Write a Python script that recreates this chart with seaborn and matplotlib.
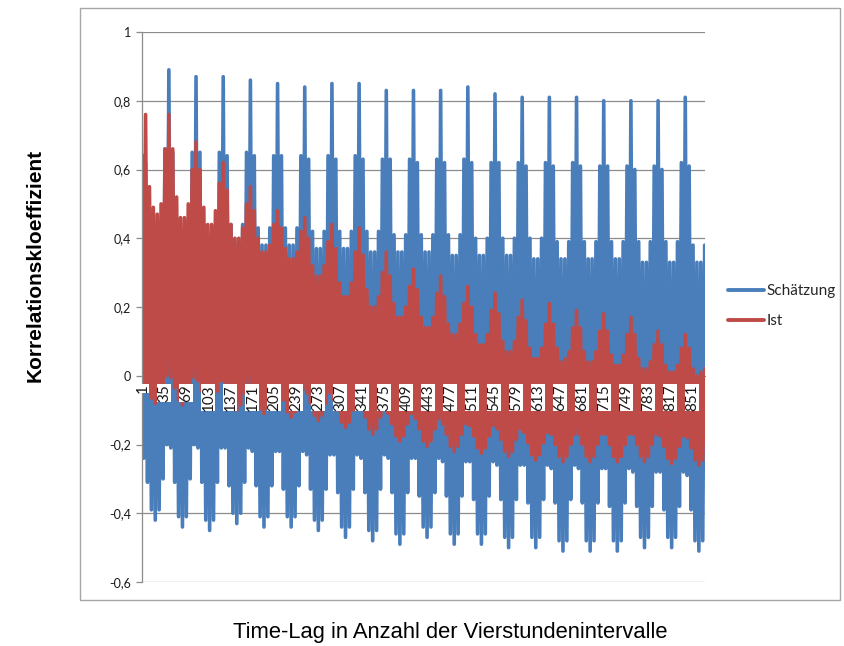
import numpy as np
import pandas as pd
import matplotlib
matplotlib.use("Agg")
import matplotlib.pyplot as plt
import seaborn as sns
from matplotlib.patches import Rectangle

# ---------------- data ----------------
series_names = ["Schätzung", "Ist"]
n_lags = 870
lag1_values = [0.20, 0.64]          # value at lag 1 (Schätzung, Ist)

# daily maxima (lags 6, 12, ..., 870)
blue_day_peaks = [
    0.62, 0.44, 0.40,
    0.40, 0.45, 0.66, 0.89, 0.65, 0.45, 0.40,
    0.40, 0.45, 0.65, 0.87, 0.65, 0.44, 0.40,
    0.39, 0.44, 0.65, 0.87, 0.64, 0.44, 0.39,
    0.39, 0.44, 0.65, 0.86, 0.64, 0.43, 0.38,
    0.38, 0.43, 0.64, 0.85, 0.64, 0.43, 0.38,
    0.38, 0.43, 0.64, 0.84, 0.63, 0.42, 0.37,
    0.37, 0.42, 0.64, 0.85, 0.63, 0.42, 0.37,
    0.37, 0.42, 0.64, 0.85, 0.63, 0.42, 0.36,
    0.36, 0.42, 0.63, 0.83, 0.63, 0.41, 0.36,
    0.36, 0.41, 0.63, 0.83, 0.62, 0.41, 0.36,
    0.36, 0.41, 0.63, 0.83, 0.62, 0.41, 0.35,
    0.35, 0.41, 0.63, 0.84, 0.62, 0.40, 0.35,
    0.35, 0.40, 0.62, 0.82, 0.62, 0.40, 0.35,
    0.35, 0.40, 0.62, 0.81, 0.61, 0.40, 0.34,
    0.34, 0.40, 0.62, 0.81, 0.61, 0.39, 0.34,
    0.34, 0.39, 0.62, 0.81, 0.61, 0.39, 0.34,
    0.34, 0.39, 0.61, 0.80, 0.61, 0.39, 0.34,
    0.34, 0.39, 0.61, 0.80, 0.60, 0.39, 0.33,
    0.33, 0.39, 0.61, 0.80, 0.60, 0.39, 0.33,
    0.33, 0.39, 0.62, 0.81, 0.61, 0.38, 0.33,
    0.33, 0.38,
]
# half-day minima (lags 3, 9, ..., 867)
blue_day_troughs = [
    -0.24, -0.31, -0.39, -0.42,
    -0.39, -0.30, -0.20, -0.21, -0.31, -0.41, -0.44,
    -0.41, -0.30, -0.20, -0.21, -0.31, -0.42, -0.45,
    -0.42, -0.31, -0.21, -0.21, -0.32, -0.40, -0.43,
    -0.40, -0.31, -0.21, -0.22, -0.32, -0.41, -0.44,
    -0.41, -0.32, -0.22, -0.22, -0.33, -0.41, -0.44,
    -0.41, -0.32, -0.22, -0.23, -0.33, -0.42, -0.45,
    -0.42, -0.33, -0.23, -0.23, -0.34, -0.44, -0.47,
    -0.44, -0.33, -0.23, -0.24, -0.34, -0.45, -0.48,
    -0.45, -0.33, -0.23, -0.24, -0.34, -0.46, -0.49,
    -0.46, -0.34, -0.24, -0.24, -0.35, -0.44, -0.47,
    -0.44, -0.34, -0.24, -0.25, -0.35, -0.46, -0.49,
    -0.46, -0.35, -0.25, -0.25, -0.36, -0.46, -0.49,
    -0.46, -0.35, -0.25, -0.26, -0.36, -0.47, -0.50,
    -0.47, -0.36, -0.26, -0.26, -0.37, -0.47, -0.50,
    -0.47, -0.36, -0.26, -0.27, -0.37, -0.48, -0.51,
    -0.48, -0.36, -0.26, -0.27, -0.37, -0.48, -0.51,
    -0.48, -0.37, -0.27, -0.27, -0.38, -0.48, -0.51,
    -0.48, -0.37, -0.27, -0.28, -0.38, -0.47, -0.50,
    -0.47, -0.38, -0.28, -0.28, -0.39, -0.47, -0.50,
    -0.47, -0.38, -0.28, -0.29, -0.39, -0.48, -0.51,
    -0.48,
]
red_day_peaks = [
    0.76, 0.55, 0.49,
    0.47, 0.50, 0.66, 0.76, 0.66, 0.52, 0.46,
    0.46, 0.50, 0.60, 0.68, 0.60, 0.49, 0.44,
    0.44, 0.48, 0.56, 0.62, 0.54, 0.44, 0.40,
    0.40, 0.43, 0.50, 0.55, 0.48, 0.40, 0.36,
    0.36, 0.38, 0.44, 0.48, 0.43, 0.37, 0.34,
    0.34, 0.36, 0.42, 0.46, 0.40, 0.32, 0.29,
    0.29, 0.32, 0.39, 0.44, 0.37, 0.27, 0.23,
    0.23, 0.27, 0.36, 0.43, 0.35, 0.25, 0.20,
    0.20, 0.23, 0.30, 0.36, 0.29, 0.21, 0.17,
    0.17, 0.20, 0.26, 0.31, 0.25, 0.17, 0.14,
    0.14, 0.17, 0.24, 0.29, 0.23, 0.15, 0.12,
    0.12, 0.15, 0.21, 0.26, 0.20, 0.12, 0.09,
    0.09, 0.12, 0.19, 0.24, 0.18, 0.10, 0.07,
    0.07, 0.10, 0.17, 0.22, 0.16, 0.08, 0.05,
    0.05, 0.08, 0.15, 0.21, 0.15, 0.08, 0.04,
    0.05, 0.07, 0.14, 0.19, 0.14, 0.07, 0.04,
    0.04, 0.07, 0.13, 0.18, 0.13, 0.06, 0.03,
    0.03, 0.06, 0.12, 0.17, 0.12, 0.05, 0.02,
    0.02, 0.04, 0.09, 0.13, 0.09, 0.03, 0.01,
    0.01, 0.03, 0.08, 0.12, 0.08, 0.02, 0.00,
    0.01, 0.02,
]
red_day_troughs = [
    -0.02, -0.03, -0.065, -0.08,
    -0.065, -0.03, 0.00, -0.005, -0.035, -0.07, -0.085,
    -0.07, -0.035, -0.005, -0.015, -0.045, -0.08, -0.095,
    -0.08, -0.045, -0.015, -0.02, -0.05, -0.085, -0.10,
    -0.085, -0.05, -0.02, -0.03, -0.06, -0.095, -0.11,
    -0.095, -0.06, -0.03, -0.04, -0.07, -0.105, -0.12,
    -0.105, -0.07, -0.04, -0.05, -0.08, -0.115, -0.13,
    -0.115, -0.08, -0.05, -0.07, -0.10, -0.135, -0.15,
    -0.135, -0.10, -0.07, -0.09, -0.12, -0.155, -0.17,
    -0.155, -0.12, -0.09, -0.11, -0.14, -0.175, -0.19,
    -0.175, -0.14, -0.11, -0.125, -0.155, -0.19, -0.205,
    -0.19, -0.155, -0.125, -0.14, -0.17, -0.205, -0.22,
    -0.205, -0.17, -0.14, -0.145, -0.175, -0.21, -0.225,
    -0.21, -0.175, -0.145, -0.155, -0.185, -0.22, -0.235,
    -0.22, -0.185, -0.155, -0.165, -0.195, -0.23, -0.245,
    -0.23, -0.195, -0.165, -0.17, -0.20, -0.235, -0.25,
    -0.235, -0.20, -0.17, -0.17, -0.20, -0.235, -0.25,
    -0.235, -0.20, -0.17, -0.17, -0.20, -0.235, -0.25,
    -0.235, -0.20, -0.17, -0.17, -0.20, -0.235, -0.25,
    -0.235, -0.20, -0.17, -0.175, -0.205, -0.24, -0.255,
    -0.24, -0.205, -0.175, -0.18, -0.21, -0.245, -0.26,
    -0.245,
]

x_tick_lags = list(range(1, 852, 34))
x_tick_labels = [str(v) for v in x_tick_lags]
y_ticks = [-0.6, -0.4, -0.2, 0.0, 0.2, 0.4, 0.6, 0.8, 1.0]
y_tick_labels = ["-0,6", "-0,4", "-0,2", "0", "0,2", "0,4", "0,6", "0,8", "1"]

# ---------------- build long table ----------------
peak_lags = np.arange(6, n_lags + 1, 6)
trough_lags = np.arange(3, n_lags, 6)
rows = []
for name, first, peaks, troughs in [
    (series_names[0], lag1_values[0], blue_day_peaks, blue_day_troughs),
    (series_names[1], lag1_values[1], red_day_peaks, red_day_troughs),
]:
    lags = np.concatenate([[1], trough_lags, peak_lags])
    vals = np.concatenate([[first], troughs, peaks])
    order = np.argsort(lags)
    rows.append(pd.DataFrame({"lag": lags[order], "r": vals[order], "series": name}))
df = pd.concat(rows, ignore_index=True)

# ---------------- figure ----------------
sns.set_style("white")
plt.rcParams["font.family"] = ["Lato", "DejaVu Sans"]

fig = plt.figure(figsize=(8.44, 6.46), dpi=100)
ax = fig.add_axes([142 / 844, 1 - 582 / 646, 563 / 844, 550 / 646])

grid_col = "#8c8c8c"
for yv in y_ticks:
    ax.axhline(yv, color=grid_col, lw=0.9, zorder=0.5)

palette = {series_names[0]: "#4A7EBB", series_names[1]: "#BE4B48"}
sns.lineplot(data=df, x="lag", y="r", hue="series", hue_order=series_names,
             palette=palette, estimator=None, sort=True, lw=2.6, ax=ax, zorder=2)

ax.set_xlim(0.5, n_lags + 0.5)
ax.set_ylim(-0.6, 1.0)

ax.set_yticks(y_ticks, labels=y_tick_labels)
ax.tick_params(axis="y", direction="out", length=4, width=0.9, color=grid_col,
               pad=4, labelsize=9, labelcolor="#1a1a1a", left=True)

ax.spines["bottom"].set_position(("data", 0))
ax.spines["bottom"].set_color(grid_col)
ax.spines["bottom"].set_zorder(1)
for s in ["top", "right"]:
    ax.spines[s].set_visible(False)
ax.spines["left"].set_color(grid_col)
ax.spines["left"].set_linewidth(0.9)

ax.set_xticks(x_tick_lags, labels=x_tick_labels)
ax.tick_params(axis="x", length=0, pad=6, labelsize=11, labelcolor="#1a1a1a",
               labelrotation=90)
ax.set_axisbelow(False)
for lbl in ax.get_xticklabels():
    lbl.set_bbox(dict(boxstyle="square,pad=0.0", fc="white", ec="none"))

ax.set_xlabel("Time-Lag in Anzahl der Vierstundenintervalle",
              fontfamily="Liberation Sans", fontsize=15.8, color="#000000")
ax.xaxis.set_label_coords(0.547, -0.091)
ax.xaxis.label.set_verticalalignment("center")

ax.set_ylabel("Korrelationskloeffizient", fontfamily="Liberation Sans",
              fontweight="bold", fontsize=15, color="#000000")
ax.yaxis.set_label_coords(-0.19, 0.576)
ax.yaxis.label.set_verticalalignment("center")

handles, labels = ax.get_legend_handles_labels()
ax.legend(handles, labels, loc="center left",
          bbox_to_anchor=(720 / 844, 1 - 306 / 646), bbox_transform=fig.transFigure,
          frameon=False, borderpad=0, handlelength=2.4, handletextpad=0.15,
          labelspacing=1.05, prop={"family": "Lato", "size": 11})
for h in ax.get_legend().get_lines():
    h.set_linewidth(2.8)

fig.add_artist(Rectangle((80 / 844, 1 - 600 / 646), 760 / 844, 592 / 646,
                         transform=fig.transFigure, fill=False,
                         ec="#a6a6a6", lw=1.0))

fig.savefig("out.png", dpi=100)
